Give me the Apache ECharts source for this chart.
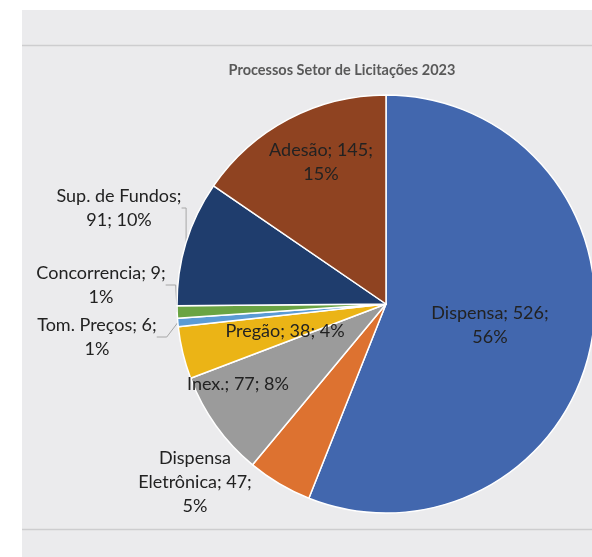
<!DOCTYPE html>
<html>
<head>
<meta charset="utf-8">
<title>Processos Setor de Licitações 2023</title>
<script src="https://cdn.jsdelivr.net/npm/echarts@6/dist/echarts.min.js"></script>
<style>
  html, body { margin: 0; padding: 0; background: #ffffff; }
  #chart { width: 592px; height: 557px; }
</style>
</head>
<body>
<div id="chart"></div>
<script>
// Processos por modalidade, 2023
const categories = ['Dispensa', 'Dispensa Eletrônica', 'Inex.', 'Pregão', 'Tom. Preços', 'Concorrencia', 'Sup. de Fundos', 'Adesão'];
const values = [526, 47, 77, 38, 6, 9, 91, 145];
const chartTitle = 'Processos Setor de Licitações 2023';

// Presentation per slice
const colors = ['#4267ae', '#dd7230', '#9b9b9b', '#ebb416', '#5b9bd5', '#6aa443', '#1f3d6d', '#8f4321'];
const labelAt = [[490, 325], [195, 482], [238, 384], [285, 331], [97, 337], [101, 285], [119, 208], [321, 162]];
// where the label text breaks: after the name, after the value, or nowhere
const breakAfterName = [false, false, false, false, false, false, true, false];
const breakAfterValue = [true, true, false, false, true, true, false, true];
const nameWrap = [false, true, false, false, false, false, false, false];
const outsideLine = [false, false, false, false, true, true, true, false];
const outside = [false, true, false, false, true, true, true, false];

const total = values.reduce((a, b) => a + b, 0);

const data = categories.map((name, i) => ({
  name: name,
  value: values[i],
  itemStyle: { color: colors[i] },
  label: { position: outside[i] ? 'outside' : 'inside' },
  labelLine: { show: outsideLine[i] }
}));

const chart = echarts.init(document.getElementById('chart'), null, { renderer: 'canvas' });

chart.setOption({
  animation: false,
  backgroundColor: '#ffffff',
  graphic: [
    { type: 'rect', z: -10, shape: { x: 22, y: 10, width: 570, height: 547 }, style: { fill: '#ebebed' } },
    { type: 'line', z: -9, shape: { x1: 22, y1: 45.5, x2: 592, y2: 45.5 }, style: { stroke: '#cdcdcf', lineWidth: 1.5 } },
    { type: 'line', z: -9, shape: { x1: 22, y1: 529.5, x2: 592, y2: 529.5 }, style: { stroke: '#cdcdcf', lineWidth: 1.5 } }
  ],
  title: {
    text: chartTitle,
    left: 337,
    top: 58,
    textAlign: 'center',
    textStyle: { fontFamily: 'Lato', fontWeight: 'bold', fontSize: 14.5, color: '#595959' }
  },
  series: [{
    type: 'pie',
    center: [386, 304],
    radius: 209,
    startAngle: 90,
    clockwise: true,
    itemStyle: { borderColor: '#ffffff', borderWidth: 1.5 },
    label: {
      fontFamily: 'Lato',
      fontSize: 18,
      lineHeight: 24,
      color: '#222222',
      align: 'center',
      formatter: function (p) {
        const i = p.dataIndex;
        const name = nameWrap[i] ? p.name.replace(' ', '\n') : p.name;
        const pct = Math.round(p.value / total * 100);
        return name + ';' + (breakAfterName[i] ? '\n' : ' ') +
               p.value + ';' + (breakAfterValue[i] ? '\n' : ' ') + pct + '%';
      }
    },
    labelLine: {
      length: 10,
      length2: 10,
      lineStyle: { color: '#a6a6a6', width: 1 }
    },
    labelLayout: function (params) {
      const pos = labelAt[params.dataIndex];
      return { x: pos[0], y: pos[1], align: 'center', verticalAlign: 'middle' };
    },
    data: data
  }]
});
</script>
</body>
</html>
